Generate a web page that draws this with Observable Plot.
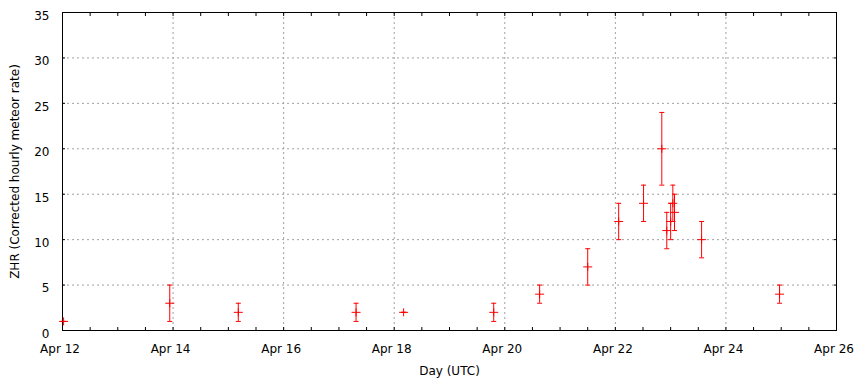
<!DOCTYPE html>
<html>
<head>
<meta charset="utf-8">
<script src="https://cdn.jsdelivr.net/npm/d3@7"></script>
<script src="https://cdn.jsdelivr.net/npm/@observablehq/plot@0.6"></script>
<style>
  html, body { margin: 0; padding: 0; background: #fff; }
  svg { display: block; }
</style>
</head>
<body>
<div id="chart"></div>
<script>
// Day of April (UTC, decimal), ZHR, and error range
const day  = [12.02, 13.94, 15.18, 17.31, 18.17, 19.80, 20.63, 21.50, 22.06, 22.51, 22.84, 22.93, 23.00, 23.04, 23.07, 23.56, 24.97];
const zhr  = [1, 3, 2, 2, 2, 2, 4, 7, 12, 14, 20, 11, 12, 14, 13, 10, 4];
const zlo  = [1, 1, 1, 1, 2, 1, 3, 5, 10, 12, 16, 9, 10, 12, 11, 8, 3];
const zhi  = [1, 5, 3, 3, 2, 3, 5, 9, 14, 16, 24, 13, 14, 16, 15, 12, 5];

const xMajor = [12, 14, 16, 18, 20, 22, 24, 26];
const xMinor = d3.range(12, 26.001, 0.5);
const xGrid = [14, 16, 18, 20, 22, 24];
const yTicks = [0, 5, 10, 15, 20, 25, 30, 35];
const yGrid = [5, 10, 15, 20, 25, 30];

const data = day.map((d, i) => ({day: d, zhr: zhr[i], lo: zlo[i], hi: zhi[i]}));

const capSymbol = { draw(ctx) { ctx.moveTo(-2.5, 0); ctx.lineTo(2.5, 0); } };
const plusSymbol = { draw(ctx) { ctx.moveTo(-4.5, 0); ctx.lineTo(4.5, 0); ctx.moveTo(0, -4); ctx.lineTo(0, 4); } };

const red = "#ff0000";
const gridStyle = {stroke: "#a0a0a0", strokeOpacity: 1, strokeDasharray: "2,3"};
const font = "DejaVu Sans, sans-serif";

const chart = Plot.plot({
  width: 858,
  height: 382,
  marginLeft: 62,
  marginRight: 22,
  marginTop: 12,
  marginBottom: 52,
  style: {fontFamily: font, fontSize: "12px", color: "black", background: "white"},
  x: {domain: [12, 26]},
  y: {domain: [0, 35]},
  marks: [
    Plot.gridX(xGrid, gridStyle),
    Plot.gridY(yGrid, gridStyle),
    // minor/major ticks, inward, on all four sides
    Plot.axisX(xMinor, {anchor: "bottom", tickSize: -3, tickFormat: () => "", label: null}),
    Plot.axisX(xMinor, {anchor: "top", tickSize: -3, tickFormat: () => "", label: null}),
    Plot.axisY(yTicks, {anchor: "left", tickSize: -3, tickFormat: () => "", label: null}),
    Plot.axisY(yTicks, {anchor: "right", tickSize: -3, tickFormat: () => "", label: null}),
    Plot.axisX(xMajor, {anchor: "bottom", tickSize: 0, tickPadding: 13.5, dx: -2.5,
      tickFormat: d => `Apr ${d}`, fontSize: 12,
      label: "Day (UTC)", labelAnchor: "center", labelArrow: "none", labelOffset: 44}),
    Plot.axisY(yTicks, {anchor: "left", tickSize: 0, tickPadding: 13, dy: 3.5, fontSize: 12,
      label: "ZHR (Corrected hourly meteor rate)", labelAnchor: "center", labelArrow: "none", labelOffset: 52}),
    Plot.frame({stroke: "black", strokeWidth: 1}),
    Plot.ruleX(data, {x: "day", y1: "lo", y2: "hi", stroke: red, strokeWidth: 1}),
    Plot.dot(data, {x: "day", y: "lo", symbol: capSymbol, stroke: red, fill: "none", strokeWidth: 1}),
    Plot.dot(data, {x: "day", y: "hi", symbol: capSymbol, stroke: red, fill: "none", strokeWidth: 1}),
    Plot.dot(data, {x: "day", y: "zhr", symbol: plusSymbol, stroke: red, fill: "none", strokeWidth: 1})
  ]
});
document.getElementById("chart").appendChild(chart);
</script>
</body>
</html>
